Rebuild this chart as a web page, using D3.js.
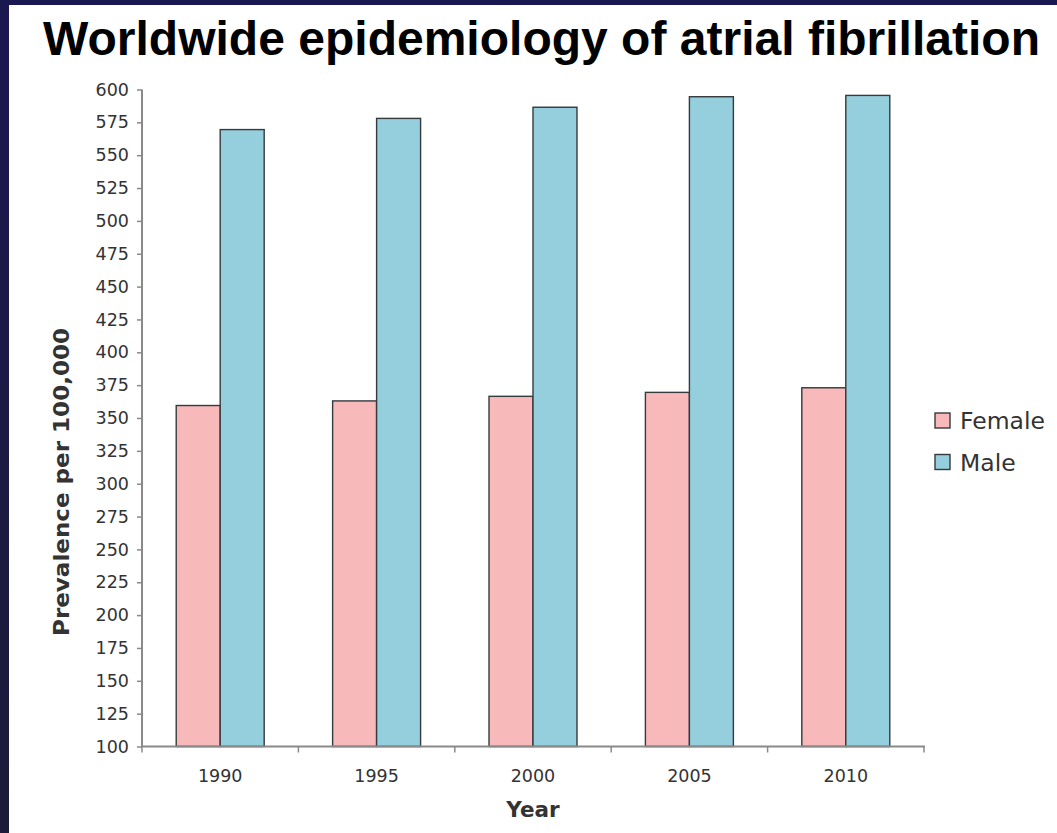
<!DOCTYPE html>
<html>
<head>
<meta charset="utf-8">
<script src="https://cdn.jsdelivr.net/npm/d3@7"></script>
<style>
  html, body { margin: 0; padding: 0; background: #1a1a4a; }
  svg { display: block; }
</style>
</head>
<body>
<script>
// Prevalence of atrial fibrillation per 100,000, by year and sex
const years = ["1990", "1995", "2000", "2005", "2010"];
const seriesNames = ["Female", "Male"];
const femaleValues = [359.5, 363, 366.5, 369.5, 373];
const maleValues = [569.5, 578, 586.5, 594.5, 595.5];
const yTicks = [100, 125, 150, 175, 200, 225, 250, 275, 300, 325, 350, 375, 400, 425, 450, 475, 500, 525, 550, 575, 600];
const seriesColors = ["#f7b9ba", "#95cedc"];

const W = 1057, H = 833;
const svg = d3.select("body").append("svg").attr("width", W).attr("height", H);

// Slide frame: navy border with white panel
const defs = svg.append("defs");
const grad = defs.append("linearGradient").attr("id", "frame").attr("x1", 0).attr("y1", 0).attr("x2", 0).attr("y2", 1);
grad.append("stop").attr("offset", "0%").attr("stop-color", "#1a1850");
grad.append("stop").attr("offset", "100%").attr("stop-color", "#1c1b38");
svg.append("rect").attr("width", W).attr("height", H).attr("fill", "url(#frame)");
svg.append("rect").attr("x", 9).attr("y", 5).attr("width", W - 9).attr("height", H - 5).attr("fill", "#ffffff");

// Title
svg.append("text")
  .attr("x", 43).attr("y", 55)
  .attr("textLength", 997).attr("lengthAdjust", "spacingAndGlyphs")
  .attr("font-family", "'Liberation Sans', Arial, sans-serif")
  .attr("font-weight", "bold").attr("font-size", 48).attr("fill", "#000")
  .text("Worldwide epidemiology of atrial fibrillation");

const x0 = 142, x1 = 924, yTop = 89.5, yBot = 746.5;

const y = d3.scaleLinear().domain([100, 600]).range([yBot, yTop]);
const x = d3.scaleBand().domain(years).range([x0, x1]).paddingInner(0.4375).paddingOuter(0.21875);
const xs = d3.scaleBand().domain(seriesNames).range([0, x.bandwidth()]);

const font = "'DejaVu Sans', sans-serif";
const axisColor = "#8a8a8a";

// Bars
const data = years.map((yr, i) => ({ year: yr, values: [femaleValues[i], maleValues[i]] }));
const groups = svg.append("g").selectAll("g").data(data).join("g")
  .attr("transform", d => `translate(${x(d.year)},0)`);
groups.selectAll("rect")
  .data(d => d.values.map((v, k) => ({ name: seriesNames[k], value: v, k })))
  .join("rect")
  .attr("x", d => xs(d.name))
  .attr("width", xs.bandwidth())
  .attr("y", d => y(d.value))
  .attr("height", d => y(100) - y(d.value))
  .attr("fill", d => seriesColors[d.k])
  .attr("stroke", "#353a3c")
  .attr("stroke-width", 1.4);

// Y axis
const yAxis = d3.axisLeft(y).tickValues(yTicks).tickSize(5).tickPadding(8);
const gy = svg.append("g").attr("transform", `translate(${x0},0)`).call(yAxis);
gy.select(".domain").attr("stroke", axisColor).attr("stroke-width", 2).attr("d", `M0,${yTop}V${yBot}`);
gy.selectAll(".tick line").attr("stroke", axisColor).attr("stroke-width", 1.5);
gy.selectAll(".tick text").attr("font-family", font).attr("font-size", 17.5).attr("fill", "#333");

// X axis: line with ticks at category boundaries
const gx = svg.append("g");
gx.append("line").attr("x1", x0 - 1).attr("x2", x1 + 1).attr("y1", yBot).attr("y2", yBot)
  .attr("stroke", axisColor).attr("stroke-width", 2.2);
const step = x.step();
const boundaries = d3.range(years.length + 1).map(i => x0 + i * step);
gx.selectAll("line.b").data(boundaries).join("line").attr("class", "b")
  .attr("x1", d => d).attr("x2", d => d).attr("y1", yBot).attr("y2", yBot + 6)
  .attr("stroke", axisColor).attr("stroke-width", 1.5);
gx.selectAll("text").data(years).join("text")
  .attr("x", d => x(d) + x.bandwidth() / 2).attr("y", 782)
  .attr("text-anchor", "middle")
  .attr("font-family", font).attr("font-size", 17.5).attr("fill", "#333")
  .text(d => d);

// Axis titles
svg.append("text")
  .attr("x", (x0 + x1) / 2).attr("y", 817).attr("text-anchor", "middle")
  .attr("font-family", font).attr("font-weight", "bold").attr("font-size", 21.5).attr("fill", "#333")
  .text("Year");
svg.append("text")
  .attr("transform", `translate(69,482) rotate(-90)`)
  .attr("text-anchor", "middle")
  .attr("textLength", 308).attr("lengthAdjust", "spacingAndGlyphs")
  .attr("font-family", font).attr("font-weight", "bold").attr("font-size", 21.5).attr("fill", "#333")
  .text("Prevalence per 100,000");

// Legend
const legend = svg.append("g").selectAll("g").data(seriesNames).join("g")
  .attr("transform", (d, i) => `translate(935,${413 + i * 41.5})`);
legend.append("rect").attr("width", 15).attr("height", 15)
  .attr("fill", (d, i) => seriesColors[i]).attr("stroke", "#353a3c").attr("stroke-width", 1.4);
legend.append("text").attr("x", 25).attr("y", 16)
  .attr("font-family", font).attr("font-size", 23.5).attr("fill", "#333")
  .text(d => d);
</script>
</body>
</html>
